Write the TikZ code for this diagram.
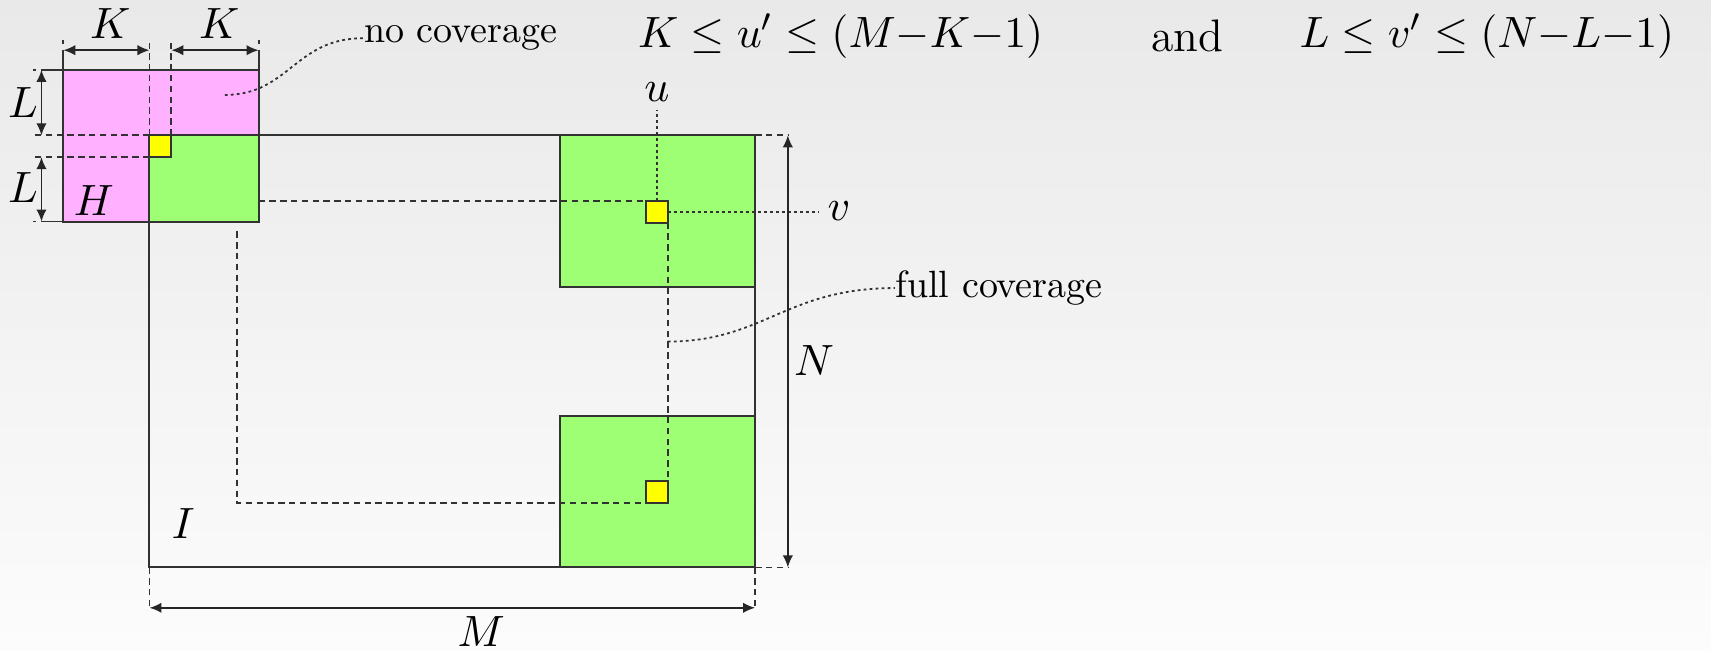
\documentclass[tikz,border=0pt]{standalone}
\usetikzlibrary{arrows.meta}
\definecolor{pinkc}{RGB}{255,176,255}
\definecolor{greenc}{RGB}{158,255,116}
\definecolor{yelc}{RGB}{255,255,0}
\definecolor{linec}{RGB}{50,50,50}
\definecolor{bgtop}{RGB}{233,233,233}
\definecolor{bgbot}{RGB}{252,252,252}
\tikzset{
  box/.style={draw=linec, line width=0.5pt},
  dsh/.style={draw=linec, line width=0.45pt, dash pattern=on 1.6pt off 1.1pt},
  dtt/.style={draw=linec, line width=0.45pt, dash pattern=on 0.7pt off 0.8pt},
  dim/.style={draw=black!85, line width=0.45pt, {Latex[length=3pt,width=2.6pt]}-{Latex[length=3pt,width=2.6pt]}},
  ext/.style={draw=linec, line width=0.45pt},
  lab/.style={font=\fontsize{11}{13}\selectfont, inner sep=0pt},
  txt/.style={font=\fontsize{9.5}{11}\selectfont, inner sep=0pt},
  frm/.style={font=\fontsize{11.4}{13}\selectfont, inner sep=0pt}
}
\begin{document}
\begin{tikzpicture}[x=0.2728pt,y=-0.2728pt]
\useasboundingbox (0,0) rectangle (1568,596);
\shade[top color=bgtop, bottom color=bgbot] (0,0) rectangle (1568,596);

% corner coordinates
\coordinate (pTL) at (58,64);   \coordinate (pBR) at (237,203);
\coordinate (iTL) at (137,124); \coordinate (iBR) at (692,520);
\coordinate (g1TL) at (137,124); \coordinate (g1BR) at (237,203);
\coordinate (g2TL) at (513,124); \coordinate (g2BR) at (692,263);
\coordinate (g3TL) at (513,381); \coordinate (g3BR) at (692,520);
\coordinate (y0TL) at (137,124); \coordinate (y0BR) at (157,144);
\coordinate (y1TL) at (592,184); \coordinate (y1BR) at (612,204);
\coordinate (y2TL) at (592,441); \coordinate (y2BR) at (612,461);

% main image I
\draw[box] (iTL) rectangle (iBR);
% filter H
\filldraw[box, fill=pinkc] (pTL) rectangle (pBR);
% green regions
\filldraw[box, fill=greenc] (g1TL) rectangle (g1BR);
\filldraw[box, fill=greenc] (g2TL) rectangle (g2BR);
\filldraw[box, fill=greenc] (g3TL) rectangle (g3BR);

% K dimension lines
\coordinate (kA) at (58,46); \coordinate (kB) at (137,46);
\coordinate (kC) at (157,46); \coordinate (kD) at (237,46);
\draw[ext] (pTL) -- (kA) (58,40) -- (58,37);
\draw[ext] (237,64) -- (kD) (237,40) -- (237,37);
\draw[dsh] (137,124) -- (137,37);
\draw[dsh] (157,124) -- (157,37);
\draw[dim] (kA) -- (kB);
\draw[dim] (kC) -- (kD);
\node[lab] (K1) at (101,22) {$K$};
\node[lab] (K2) at (201,22) {$K$};

% L dimension lines
\coordinate (lA) at (38,64); \coordinate (lB) at (38,124);
\coordinate (lC) at (38,144); \coordinate (lD) at (38,203);
\draw[ext] (pTL) -- (lA) (33,64) -- (30,64);
\draw[ext] (58,203) -- (lD) (33,203) -- (30,203);
\draw[dsh] (137,124) -- (30,124);
\draw[dsh] (137,144) -- (30,144);
\draw[dim] (lA) -- (lB);
\draw[dim] (lC) -- (lD);
\node[lab] (L1) at (21,94) {$L$};
\node[lab] (L2) at (21,172) {$L$};

\node[lab] (H) at (86,184) {$H$};
\node[lab] (I) at (168,480) {$I$};

% dashed mapping lines
\draw[dsh] (237,184) -- (y1TL);
\draw[dsh] (612,204) -- (612,441);
\draw[dsh] (217,212) -- (217,461) -- (592,461);

% u and v
\node[lab] (u) at (602,84) {$u$};
\node[lab] (v) at (769,193) {$v$};
\draw[dtt] (602,184) -- (602,101);
\draw[dtt] (612,194) -- (750,194);

% yellow pixels
\filldraw[box, fill=yelc] (y0TL) rectangle (y0BR);
\filldraw[box, fill=yelc] (y1TL) rectangle (y1BR);
\filldraw[box, fill=yelc] (y2TL) rectangle (y2BR);

% N dimension
\coordinate (nA) at (722,124); \coordinate (nB) at (722,520);
\draw[dsh] (692,124) -- (nA);
\draw[dsh] (692,520) -- (nB);
\draw[dim] (nA) -- (nB);
\node[lab] (N) at (746,330) {$N$};

% M dimension
\coordinate (mA) at (137,557); \coordinate (mB) at (692,557);
\draw[dsh] (137,520) -- (mA);
\draw[dsh] (692,520) -- (mB);
\draw[dim] (mA) -- (mB);
\node[lab] (M) at (441,579) {$M$};

% annotations
\node[txt, anchor=west] (nocov) at (333,35) {no coverage};
\coordinate (nc0) at (206,87);
\draw[dtt] (nc0) .. controls (265,87) and (270,35) .. (nocov.west);
\node[txt, anchor=west] (fullcov) at (820,264) {full coverage};
\coordinate (fc0) at (612,313);
\draw[dtt] (fc0) .. controls (700,313) and (720,264) .. (fullcov.west);

% formula
\node[frm, anchor=west] (f1) at (584,33) {$K \le u' \le (M{-}K{-}1)$};
\node[frm] (and) at (1088,33) {and};
\node[frm, anchor=east] (f2) at (1535,33) {$L \le v' \le (N{-}L{-}1)$};
\end{tikzpicture}
\end{document}
